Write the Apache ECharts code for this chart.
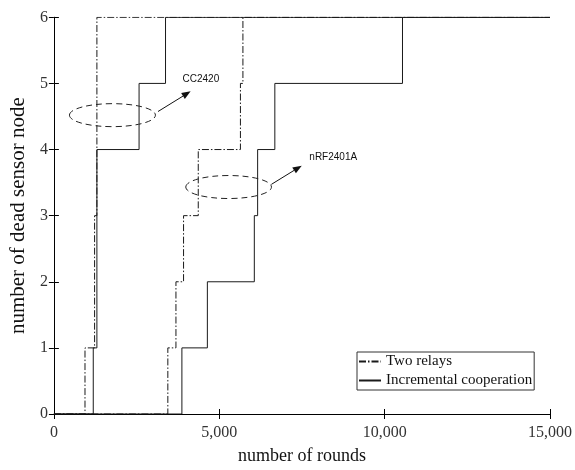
<!DOCTYPE html>
<html>
<head>
<meta charset="utf-8">
<script src="https://cdn.jsdelivr.net/npm/echarts@6/dist/echarts.min.js"></script>
<style>html,body{margin:0;padding:0;background:#fff;}#c{width:575px;height:470px;}</style>
</head>
<body>
<div id="c"></div>
<script>
// Step data: [rounds, number of dead sensor nodes] at each change
const twoRelaysCC = [[0,0],[940,1],[1230,3],[1300,6],[15000,6]];
const incrementalCC = [[0,0],[1190,1],[1300,4],[2575,5],[3375,6],[15000,6]];
const twoRelaysNRF = [[0,0],[3445,1],[3690,2],[3920,3],[4365,4],[5640,5],[5715,6],[15000,6]];
const incrementalNRF = [[0,0],[3870,1],[4640,2],[6060,3],[6160,4],[6680,5],[10540,6],[15000,6]];
const xTicks = [0, 5000, 10000, 15000];
const yTicks = [0, 1, 2, 3, 4, 5, 6];
const legendNames = ['Two relays', 'Incremental cooperation'];
// annotation anchors in data units
const annotations = [
  {label:'CC2420', ellipse:[1770,4.52], rx:1300, ry:0.174, from:[3148,4.575], to:[4135,4.88], text:[3889,5.07]},
  {label:'nRF2401A', ellipse:[5283,3.433], rx:1295, ry:0.174, from:[6575,3.473], to:[7494,3.756], text:[7723,3.88]}
];

const serif = "'Liberation Serif','Times New Roman',serif";
const chart = echarts.init(document.getElementById('c'), null, {renderer:'canvas'});
const dashDot = [7,2,1.5,2];
const lineColor = '#1a1a1a';
function mk(name, data, dashed){
  return {name:name, type:'line', step:'end', data:data, showSymbol:false, symbol:'none',
    animation:false, lineStyle:{color:lineColor, width:1, type: dashed ? dashDot : 'solid'},
    itemStyle:{color:lineColor}};
}
const axisCommon = {
  axisLine:{lineStyle:{color:'#000', width:1}},
  axisTick:{inside:true, length:5, lineStyle:{color:'#000'}},
  splitLine:{show:false}
};
chart.setOption({
  animation:false,
  grid:{left:45.5, right:23.5, top:17.3, bottom:49.3},
  legend:{
    data:legendNames, orient:'vertical', left:357, top:352,
    padding:[2,2,2,1], itemGap:4, itemWidth:22, itemHeight:14,
    itemStyle:{opacity:0},
    borderColor:'#333', borderWidth:1, backgroundColor:'#fff',
    textStyle:{fontFamily:serif, fontSize:15, color:'#111'}
  },
  xAxis:[
    Object.assign({type:'value', min:xTicks[0], max:xTicks[xTicks.length-1], interval:5000,
      name:'number of rounds', nameLocation:'middle', nameGap:33,
      nameTextStyle:{fontFamily:serif, fontSize:18, color:'#111'},
      axisLabel:{fontFamily:serif, fontSize:16, color:'#333', margin:11,
        formatter:v => v.toLocaleString('en-US')}}, axisCommon),
    Object.assign({type:'value', position:'top', min:0, max:15000, interval:5000,
      axisLabel:{show:false}}, axisCommon)
  ],
  yAxis:[
    Object.assign({type:'value', min:yTicks[0], max:yTicks[yTicks.length-1], interval:1,
      name:'number of dead sensor node', nameLocation:'middle', nameGap:23,
      nameTextStyle:{fontFamily:serif, fontSize:21, color:'#111'},
      axisLabel:{fontFamily:serif, fontSize:16, color:'#333', margin:6}}, axisCommon),
    Object.assign({type:'value', position:'right', min:0, max:6, interval:1,
      axisLabel:{show:false}}, axisCommon)
  ],
  series:[
    mk(legendNames[0], twoRelaysCC, true),
    mk(legendNames[1], incrementalCC, false),
    mk(legendNames[0], twoRelaysNRF, true),
    mk(legendNames[1], incrementalNRF, false)
  ]
});

function px(p){ return chart.convertToPixel({gridIndex:0}, p); }
const graphics = [];
annotations.forEach(a => {
  const c = px(a.ellipse);
  const e1 = px([a.ellipse[0]+a.rx, a.ellipse[1]+a.ry]);
  graphics.push({type:'ellipse', shape:{cx:c[0], cy:c[1], rx:Math.abs(e1[0]-c[0]), ry:Math.abs(e1[1]-c[1])},
    style:{fill:'none', stroke:'#222', lineWidth:1, lineDash:[6,4]}, z:10});
  const f = px(a.from), t = px(a.to);
  const dx = t[0]-f[0], dy = t[1]-f[1], L = Math.hypot(dx,dy), ux = dx/L, uy = dy/L;
  const hl = 9, hw = 3.5;
  const b = [t[0]-ux*hl, t[1]-uy*hl];
  graphics.push({type:'line', shape:{x1:f[0], y1:f[1], x2:b[0], y2:b[1]}, style:{stroke:'#111', lineWidth:1}, z:10});
  graphics.push({type:'polygon', shape:{points:[t, [b[0]-uy*hw, b[1]+ux*hw], [b[0]+uy*hw, b[1]-ux*hw]]},
    style:{fill:'#111'}, z:10});
  const tp = px(a.text);
  graphics.push({type:'text', x:tp[0], y:tp[1], style:{text:a.label, fill:'#111',
    font:"10px 'Liberation Sans', Arial, sans-serif", textVerticalAlign:'middle', textAlign:'left'}, z:10});
});
chart.setOption({graphic:graphics});
</script>
</body>
</html>
